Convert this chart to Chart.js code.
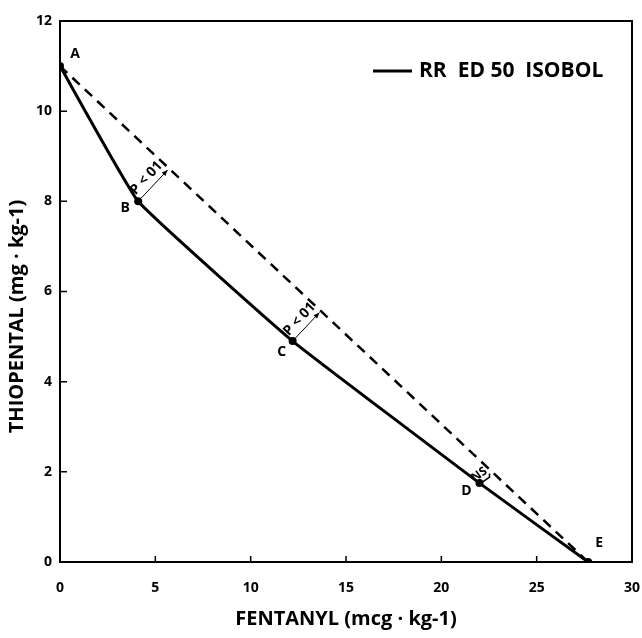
<!DOCTYPE html>
<html>
<head>
<meta charset="utf-8">
<script src="https://cdn.jsdelivr.net/npm/chart.js@4.4.0/dist/chart.umd.min.js"></script>
<style>
  html, body { margin: 0; padding: 0; background: #fff; }
  #wrap { width: 642px; height: 638px; }
</style>
</head>
<body>
<div id="wrap"><canvas id="myChart" width="642" height="638"></canvas></div>
<script>
// data
const pointNames = ['A', 'B', 'C', 'D', 'E']
const fentanyl = [0, 4.1, 12.2, 22.0, 27.7]
const thiopental = [11.0, 8.0, 4.9, 1.75, 0]
// straight additive line between the two single-drug doses
const additiveX = [0, 27.7]
const additiveY = [11.0, 0]
const diffLabels = ['', 'P < 01', 'P < 01', 'NS', '']
const xTicks = [0, 5, 10, 15, 20, 25, 30]
const yTicks = [0, 2, 4, 6, 8, 10, 12]
const legendText = 'RR  ED 50  ISOBOL'
const yTitle = 'THIOPENTAL (mg · kg-1)'

const FONT = "'Open Sans', 'DejaVu Sans', sans-serif"

function toXY(xs, ys) {
  return xs.map(function (v, i) { return { x: v, y: ys[i] } })
}

// frame, inward ticks, letters, legend, arrows
const decorations = {
  id: 'decorations',
  afterDatasetsDraw(chart) {
    const ctx = chart.ctx
    const a = chart.chartArea
    const xs = chart.scales.x
    const ys = chart.scales.y
    ctx.save()
    ctx.strokeStyle = '#000'
    ctx.fillStyle = '#000'

    // box
    ctx.lineWidth = 2
    ctx.strokeRect(a.left, a.top, a.right - a.left, a.bottom - a.top)

    // inward tick marks
    ctx.lineWidth = 1.5
    ctx.beginPath()
    xTicks.slice(1, -1).forEach(function (v) {
      const px = xs.getPixelForValue(v)
      ctx.moveTo(px, a.bottom)
      ctx.lineTo(px, a.bottom - 6)
    })
    yTicks.slice(1, -1).forEach(function (v) {
      const py = ys.getPixelForValue(v)
      ctx.moveTo(a.left, py)
      ctx.lineTo(a.left + 7, py)
    })
    ctx.stroke()

    // y axis title (sits a little below the middle in the original)
    ctx.save()
    ctx.font = 'bold 20px ' + FONT
    ctx.textAlign = 'center'
    ctx.textBaseline = 'middle'
    ctx.translate(17, (a.top + a.bottom) / 2 + 25)
    ctx.rotate(-Math.PI / 2)
    ctx.fillText(yTitle, 0, 0)
    ctx.restore()

    // point letters
    const offs = [[15, -12], [-13, 7], [-11, 11], [-13, 8], [11, -19]]
    ctx.font = 'bold 14px ' + FONT
    ctx.textAlign = 'center'
    ctx.textBaseline = 'middle'
    pointNames.forEach(function (n, i) {
      const px = xs.getPixelForValue(fentanyl[i])
      const py = ys.getPixelForValue(thiopental[i])
      ctx.fillText(n, px + offs[i][0], py + offs[i][1])
    })

    // legend
    ctx.lineWidth = 3
    ctx.beginPath()
    ctx.moveTo(373, 71)
    ctx.lineTo(412, 71)
    ctx.stroke()
    ctx.font = 'bold 21px ' + FONT
    ctx.textAlign = 'left'
    ctx.fillText(legendText, 419, 71)

    // arrows from isobol points to the additive line
    const ax = xs.getPixelForValue(additiveX[0]), ay = ys.getPixelForValue(additiveY[0])
    const ex = xs.getPixelForValue(additiveX[1]), ey = ys.getPixelForValue(additiveY[1])
    const len = Math.hypot(ex - ax, ey - ay)
    const ux = (ex - ax) / len, uy = (ey - ay) / len
    diffLabels.forEach(function (txt, i) {
      if (!txt) return
      const px = xs.getPixelForValue(fentanyl[i])
      const py = ys.getPixelForValue(thiopental[i])
      const t = (px - ax) * ux + (py - ay) * uy
      const fx = ax + ux * t, fy = ay + uy * t
      const dl = Math.hypot(fx - px, fy - py)
      const dx = (fx - px) / dl, dy = (fy - py) / dl
      const ang = Math.atan2(dy, dx)
      // normal pointing up-left
      const nx = dy, ny = -dx
      if (txt === 'NS') {
        ctx.font = 'bold 12px ' + FONT
        ctx.save()
        ctx.translate(px + dx * 6 + nx * 6, py + dy * 6 + ny * 6)
        ctx.rotate(ang + 0.2)
        ctx.textAlign = 'center'
        ctx.fillText(txt, 0, 0)
        ctx.lineWidth = 1.5
        ctx.beginPath()
        ctx.moveTo(-7, 6)
        ctx.lineTo(-7, 8)
        ctx.lineTo(7, 8)
        ctx.lineTo(9, 5)
        ctx.stroke()
        ctx.restore()
        return
      }
      const sx = px + dx * 4, sy = py + dy * 4
      const tx = fx - dx * 2, ty = fy - dy * 2
      ctx.lineWidth = 1
      ctx.beginPath()
      ctx.moveTo(sx, sy)
      ctx.lineTo(tx, ty)
      ctx.stroke()
      // arrow head
      ctx.beginPath()
      ctx.moveTo(tx, ty)
      ctx.lineTo(tx - dx * 6 + nx * 2.5, ty - dy * 6 + ny * 2.5)
      ctx.lineTo(tx - dx * 6 - nx * 2.5, ty - dy * 6 - ny * 2.5)
      ctx.closePath()
      ctx.fill()
      // rotated label above the arrow
      ctx.font = 'bold 14px ' + FONT
      ctx.save()
      const mx = (px + fx) / 2, my = (py + fy) / 2
      ctx.translate(mx + nx * 10, my + ny * 10)
      ctx.rotate(ang)
      ctx.textAlign = 'center'
      ctx.fillText(txt, 0, 0)
      ctx.restore()
    })
    ctx.restore()
  }
}

const datachart = {
  datasets: [{
    label: 'RR ED 50 ISOBOL',
    data: toXY(fentanyl, thiopental),
    borderColor: '#000',
    backgroundColor: '#000',
    borderWidth: 3,
    pointRadius: 4,
    pointBackgroundColor: '#000',
    pointBorderWidth: 0,
    tension: 0.1
  }, {
    label: 'additive',
    data: toXY(additiveX, additiveY),
    borderColor: '#000',
    borderWidth: 2.5,
    borderDash: [10, 7],
    pointRadius: 0,
    tension: 0
  }]
}

const config = {
  type: 'line',
  data: datachart,
  options: {
    responsive: false,
    animation: false,
    layout: { padding: { top: 21, right: 0, left: 0, bottom: 0 } },
    plugins: {
      legend: { display: false },
      tooltip: { enabled: false }
    },
    scales: {
      x: {
        type: 'linear',
        min: 0,
        max: 30,
        afterFit: function (s) {
          s.height = 76
          s.paddingRight = 10
          s.paddingLeft = 0
        },
        afterBuildTicks: function (s) { s.ticks = xTicks.map(function (v) { return { value: v } }) },
        grid: { display: false, drawTicks: false },
        border: { display: false },
        ticks: { color: '#000', padding: 18, font: { family: FONT, size: 14, weight: 'bold' } },
        title: {
          display: true,
          text: 'FENTANYL (mcg · kg-1)',
          color: '#000',
          padding: { top: 0, bottom: 7 },
          font: { family: FONT, size: 20, weight: 'bold' }
        }
      },
      y: {
        type: 'linear',
        min: 0,
        max: 12,
        afterFit: function (s) { s.width = 60 },
        afterBuildTicks: function (s) { s.ticks = yTicks.map(function (v) { return { value: v } }) },
        grid: { display: false, drawTicks: false },
        border: { display: false },
        ticks: { color: '#000', padding: 8, font: { family: FONT, size: 14, weight: 'bold' } }
      }
    }
  },
  plugins: [decorations]
}

const myChart = new Chart(document.getElementById('myChart'), config)
</script>
</body>
</html>
